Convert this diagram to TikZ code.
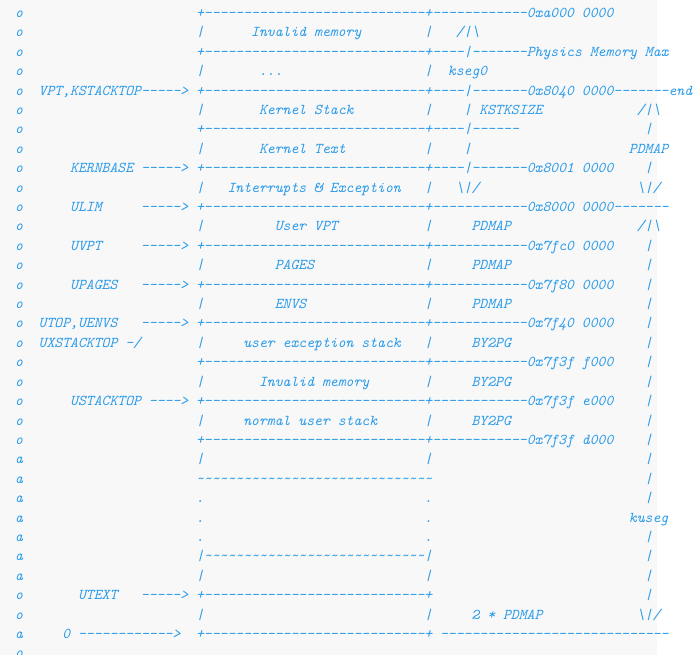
\documentclass[tikz,border=0pt]{standalone}
\definecolor{asc}{HTML}{2A9BEA}
\definecolor{bgg}{HTML}{F8F8F8}
\newcommand\Dtw{----------------------------}
\newcommand\Dtl{------------}
\newcommand\tldten{\textasciitilde\textasciitilde\textasciitilde\textasciitilde\textasciitilde\textasciitilde\textasciitilde\textasciitilde\textasciitilde\textasciitilde}
\newcommand\seg[3]{\node[txt] (n#1x#2) at ({7.19+7.87*#2},{17.5+19.406*#1}) {#3};}
\newcommand\bs{\textbackslash}
\begin{document}
\begin{tikzpicture}[x=1pt,y=-1pt,
  txt/.style={anchor=base west,inner sep=0pt,outer sep=0pt,text=asc,
    font=\fontsize{15}{18}\selectfont\ttfamily\itshape}]
\useasboundingbox (0,0) rectangle (698,655);
\fill[bgg] (0,0) rectangle (657,655);
% row 0
\seg{0}{1}{o}\seg{0}{24}{+\Dtw+\Dtl 0xa000 0000}
% row 1
\seg{1}{1}{o}\seg{1}{24}{|}\seg{1}{31}{Invalid memory}\seg{1}{53}{|}\seg{1}{57}{/|\bs}
% row 2
\seg{2}{1}{o}\seg{2}{24}{+\Dtw+----|-------Physics Memory Max}
% row 3
\seg{3}{1}{o}\seg{3}{24}{|}\seg{3}{32}{...}\seg{3}{53}{|}\seg{3}{56}{kseg0}
% row 4
\seg{4}{1}{o}\seg{4}{4}{VPT,KSTACKTOP----->}\seg{4}{24}{+\Dtw+----|-------0x8040 0000-------end}
% row 5
\seg{5}{1}{o}\seg{5}{24}{|}\seg{5}{32}{Kernel Stack}\seg{5}{53}{|}\seg{5}{58}{| KSTKSIZE}\seg{5}{80}{/|\bs}
% row 6
\seg{6}{1}{o}\seg{6}{24}{+\Dtw+----|------}\seg{6}{81}{|}
% row 7
\seg{7}{1}{o}\seg{7}{24}{|}\seg{7}{32}{Kernel Text}\seg{7}{53}{|}\seg{7}{58}{|}\seg{7}{79}{PDMAP}
% row 8
\seg{8}{1}{o}\seg{8}{8}{KERNBASE ----->}\seg{8}{24}{+\Dtw+----|-------0x8001 0000}\seg{8}{81}{|}
% row 9
\seg{9}{1}{o}\seg{9}{24}{|}\seg{9}{28}{Interrupts \& Exception}\seg{9}{53}{|}\seg{9}{57}{\bs|/}\seg{9}{80}{\bs|/}
% row 10
\seg{10}{1}{o}\seg{10}{8}{ULIM}\seg{10}{17}{----->}\seg{10}{24}{+\Dtw+\Dtl 0x8000 0000-------}
% row 11
\seg{11}{1}{o}\seg{11}{24}{|}\seg{11}{34}{User VPT}\seg{11}{53}{|}\seg{11}{59}{PDMAP}\seg{11}{80}{/|\bs}
% row 12
\seg{12}{1}{o}\seg{12}{8}{UVPT}\seg{12}{17}{----->}\seg{12}{24}{+\Dtw+\Dtl 0x7fc0 0000}\seg{12}{81}{|}
% row 13
\seg{13}{1}{o}\seg{13}{24}{|}\seg{13}{34}{PAGES}\seg{13}{53}{|}\seg{13}{59}{PDMAP}\seg{13}{81}{|}
% row 14
\seg{14}{1}{o}\seg{14}{8}{UPAGES}\seg{14}{17}{----->}\seg{14}{24}{+\Dtw+\Dtl 0x7f80 0000}\seg{14}{81}{|}
% row 15
\seg{15}{1}{o}\seg{15}{24}{|}\seg{15}{34}{ENVS}\seg{15}{53}{|}\seg{15}{59}{PDMAP}\seg{15}{81}{|}
% row 16
\seg{16}{1}{o}\seg{16}{4}{UTOP,UENVS}\seg{16}{17}{----->}\seg{16}{24}{+\Dtw+\Dtl 0x7f40 0000}\seg{16}{81}{|}
% row 17
\seg{17}{1}{o}\seg{17}{4}{UXSTACKTOP -/}\seg{17}{24}{|}\seg{17}{30}{user exception stack}\seg{17}{53}{|}\seg{17}{59}{BY2PG}\seg{17}{81}{|}
% row 18
\seg{18}{1}{o}\seg{18}{24}{+\Dtw+\Dtl 0x7f3f f000}\seg{18}{81}{|}
% row 19
\seg{19}{1}{o}\seg{19}{24}{|}\seg{19}{32}{Invalid memory}\seg{19}{53}{|}\seg{19}{59}{BY2PG}\seg{19}{81}{|}
% row 20
\seg{20}{1}{o}\seg{20}{8}{USTACKTOP ---->}\seg{20}{24}{+\Dtw+\Dtl 0x7f3f e000}\seg{20}{81}{|}
% row 21
\seg{21}{1}{o}\seg{21}{24}{|}\seg{21}{30}{normal user stack}\seg{21}{53}{|}\seg{21}{59}{BY2PG}\seg{21}{81}{|}
% row 22
\seg{22}{1}{o}\seg{22}{24}{+\Dtw+\Dtl 0x7f3f d000}\seg{22}{81}{|}
% row 23
\seg{23}{1}{a}\seg{23}{24}{|}\seg{23}{53}{|}\seg{23}{81}{|}
% row 24
\seg{24}{1}{a}\seg{24}{24}{\tldten\tldten\tldten}\seg{24}{81}{|}
% row 25
\seg{25}{1}{a}\seg{25}{24}{.}\seg{25}{53}{.}\seg{25}{81}{|}
% row 26
\seg{26}{1}{a}\seg{26}{24}{.}\seg{26}{53}{.}\seg{26}{79}{kuseg}
% row 27
\seg{27}{1}{a}\seg{27}{24}{.}\seg{27}{53}{.}\seg{27}{81}{|}
% row 28
\seg{28}{1}{a}\seg{28}{24}{|\tldten\tldten\textasciitilde\textasciitilde\textasciitilde\textasciitilde\textasciitilde\textasciitilde\textasciitilde\textasciitilde|}\seg{28}{81}{|}
% row 29
\seg{29}{1}{a}\seg{29}{24}{|}\seg{29}{53}{|}\seg{29}{81}{|}
% row 30
\seg{30}{1}{o}\seg{30}{9}{UTEXT}\seg{30}{17}{----->}\seg{30}{24}{+\Dtw+}\seg{30}{81}{|}
% row 31
\seg{31}{1}{o}\seg{31}{24}{|}\seg{31}{53}{|}\seg{31}{59}{2 * PDMAP}\seg{31}{80}{\bs|/}
% row 32
\seg{32}{1}{a}\seg{32}{7}{0}\seg{32}{9}{------------>}\seg{32}{24}{+\Dtw+}\seg{32}{55}{-----------------------------}
% row 33
\seg{33}{1}{o}
\end{tikzpicture}
\end{document}
